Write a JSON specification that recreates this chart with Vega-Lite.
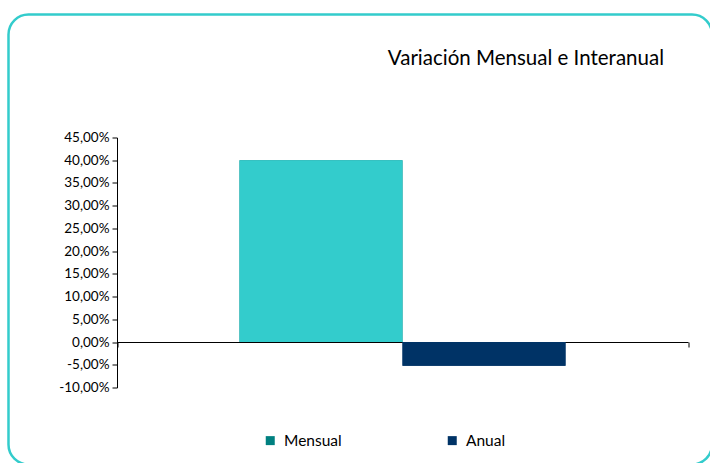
{
  "$schema": "https://vega.github.io/schema/vega-lite/v6.json",
  "autosize": {"type": "none"},
  "padding": {"left": 8.5, "top": 14.5, "right": 0, "bottom": 0},
  "width": 703.5,
  "height": 450,
  "background": "white",
  "title": {
    "text": "Variación Mensual e Interanual",
    "anchor": "end",
    "frame": "group",
    "font": "Lato",
    "fontSize": 20.5,
    "fontWeight": "normal",
    "color": "#000000",
    "dx": -48,
    "dy": 55,
    "offset": 0
  },
  "data": {
    "values": [
      {"cat": "Variación", "serie": "Mensual", "valor": 0.40},
      {"cat": "Variación", "serie": "Anual", "valor": -0.052}
    ]
  },
  "encoding": {
    "x": {
      "field": "cat",
      "type": "nominal",
      "scale": {"range": [108.5, 679.5], "paddingInner": 0, "paddingOuter": 0},
      "axis": {
        "title": null,
        "labels": false,
        "ticks": true,
        "tickBand": "extent",
        "tickSize": 5,
        "tickColor": "#000000",
        "domainColor": "#000000",
        "domainWidth": 1.2,
        "offset": -122.5,
        "grid": false
      }
    },
    "xOffset": {
      "field": "serie",
      "type": "nominal",
      "sort": ["Mensual", "Anual"],
      "scale": {"paddingInner": 0, "paddingOuter": 0.7515}
    },
    "y": {
      "field": "valor",
      "type": "quantitative",
      "scale": {"domain": [-0.1, 0.45], "range": [373, 123], "nice": false, "zero": false},
      "axis": {
        "title": null,
        "offset": -108.5,
        "values": [-0.1, -0.05, 0, 0.05, 0.1, 0.15, 0.2, 0.25, 0.3, 0.35, 0.4, 0.45],
        "format": ".2%",
        "labelFont": "Lato",
        "labelFontSize": 13.5,
        "labelColor": "#000000",
        "labelPadding": 3,
        "domainColor": "#000000",
        "tickColor": "#000000",
        "tickSize": 5,
        "grid": false
      }
    }
  },
  "layer": [
    {
      "mark": {"type": "bar", "clip": false},
      "encoding": {
        "color": {
          "field": "serie",
          "type": "nominal",
          "scale": {"domain": ["Mensual", "Anual"], "range": ["#008080", "#003366"]},
          "legend": {
            "orient": "none",
            "legendX": 254,
            "legendY": 418,
            "direction": "horizontal",
            "columns": 2,
            "columnPadding": 102,
            "title": null,
            "symbolType": "square",
            "symbolSize": 81,
            "symbolStrokeWidth": 0,
            "symbolOpacity": 1,
            "labelFont": "Lato",
            "labelFontSize": 15.5,
            "labelColor": "#000000",
            "labelOffset": 6,
            "padding": 0
          }
        }
      }
    },
    {
      "mark": {"type": "bar", "clip": false},
      "encoding": {
        "color": {
          "field": "serie",
          "type": "nominal",
          "scale": {"domain": ["Mensual", "Anual"], "range": ["#33CCCC", "#003366"]},
          "legend": null
        }
      }
    }
  ],
  "resolve": {"scale": {"color": "independent"}, "legend": {"color": "independent"}},
  "config": {
    "locale": {
      "number": {
        "decimal": ",",
        "thousands": ".",
        "grouping": [3],
        "currency": ["", " €"],
        "minus": "-",
        "percent": "%"
      }
    },
    "view": {"stroke": "#33CCCC", "strokeWidth": 2.5, "cornerRadius": 20, "fill": "white"}
  }
}
